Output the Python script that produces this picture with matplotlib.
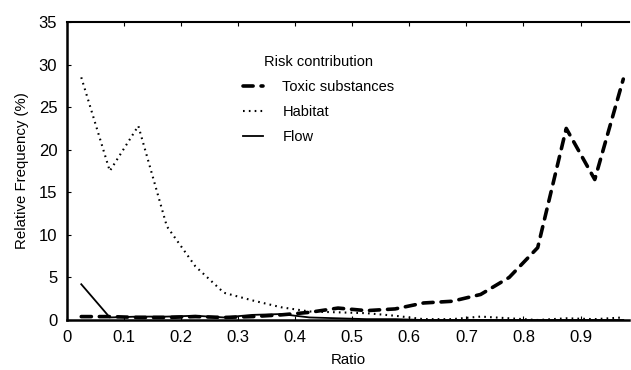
import numpy as np
import matplotlib
matplotlib.use("Agg")
import matplotlib.pyplot as plt

plt.rcParams['font.family'] = ['Liberation Sans', 'DejaVu Sans']

# bin centres of ratio (width 0.05)
ratio = [0.025, 0.075, 0.125, 0.175, 0.225, 0.275, 0.325, 0.375, 0.425, 0.475,
         0.525, 0.575, 0.625, 0.675, 0.725, 0.775, 0.825, 0.875, 0.925, 0.975]

toxic = [0.4, 0.4, 0.3, 0.3, 0.4, 0.3, 0.4, 0.6, 0.9, 1.4,
         1.1, 1.3, 2.0, 2.2, 3.0, 5.0, 8.5, 22.5, 16.5, 28.3]
habitat = [28.5, 17.5, 22.8, 11.0, 6.3, 3.2, 2.3, 1.5, 1.0, 0.9,
           0.8, 0.5, 0.1, 0.1, 0.4, 0.2, 0.0, 0.2, 0.1, 0.3]
flow = [4.2, 0.3, 0.4, 0.4, 0.5, 0.3, 0.6, 0.7, 0.3, 0.2,
        0.1, 0.1, 0.0, 0.0, 0.0, 0.0, 0.0, 0.0, 0.0, 0.0]

xticks = [0, 0.1, 0.2, 0.3, 0.4, 0.5, 0.6, 0.7, 0.8, 0.9]
xtick_labels = ['0', '0.1', '0.2', '0.3', '0.4', '0.5', '0.6', '0.7', '0.8', '0.9']
yticks = [0, 5, 10, 15, 20, 25, 30, 35]

fig = plt.figure(figsize=(6.31, 3.70), dpi=100)
ax = fig.add_axes([67/631, 1 - 320/370, 562/631, 298/370])

ax.plot(ratio, toxic, color='black', lw=2.6, linestyle=(0, (2.8, 2.2)),
        dash_capstyle='round', label='Toxic substances')
ax.plot(ratio, habitat, color='black', lw=1.5, linestyle=(0, (0.8, 2.0)),
        label='Habitat')
ax.plot(ratio, flow, color='black', lw=1.3, label='Flow')

ax.set_xlim(0, 0.985)
ax.set_ylim(0, 35)
ax.set_xticks(xticks)
ax.set_xticklabels(xtick_labels)
ax.set_yticks(yticks)
ax.tick_params(direction='in', length=3, labelsize=12, top=True, pad=7)
ax.spines['right'].set_visible(False)
ax.spines['left'].set_linewidth(1.8)
ax.spines['bottom'].set_linewidth(1.8)
ax.spines['top'].set_linewidth(1.5)

ax.set_xlabel('Ratio', fontsize=10.8, labelpad=6)
ax.set_ylabel('Relative Frequency (%)', fontsize=10.8, labelpad=7)

leg = ax.legend(loc='upper left', bbox_to_anchor=((243 - 67) / 562, (320 - 55) / 298),
                frameon=False, title='Risk contribution', fontsize=10.5,
                title_fontsize=10.5, handlelength=1.4, handletextpad=1.3,
                labelspacing=0.75, borderpad=0, borderaxespad=0)

fig.savefig('out.png', dpi=100)
